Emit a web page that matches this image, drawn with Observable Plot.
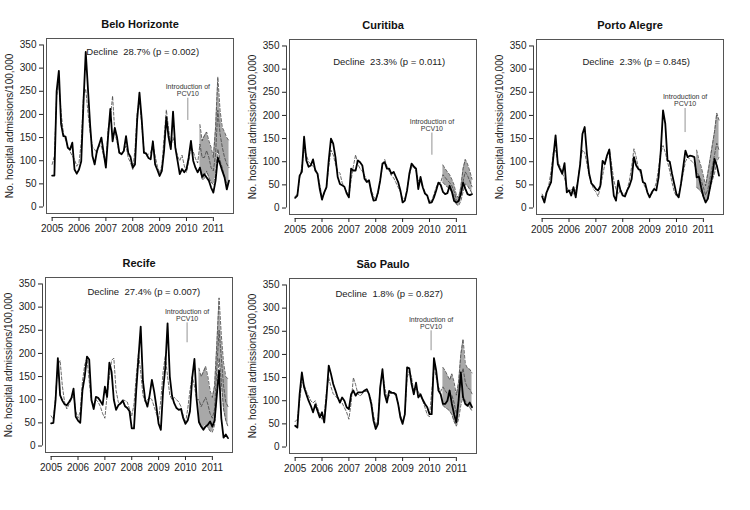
<!DOCTYPE html>
<html><head><meta charset="utf-8">
<script src="https://cdn.jsdelivr.net/npm/d3@7"></script>
<script src="https://cdn.jsdelivr.net/npm/@observablehq/plot@0.6"></script>
<style>
body{margin:0;background:#fff;}
#chart{position:relative;width:750px;height:510px;background:#fff;font-family:"Liberation Sans",Arial,sans-serif;}
.panel{position:absolute;}
</style></head><body><div id="chart"></div>
<script>
// ---- data (monthly, Jan 2005 – Aug 2011) ----
const yearTicks = [2005, 2006, 2007, 2008, 2009, 2010, 2011];
const yTicks = [0, 50, 100, 150, 200, 250, 300, 350];
const yLabel = "No. hospital admissions/100,000";
const introLabel = "Introduction of\nPCV10";
const cities = ["Belo Horizonte", "Curitiba", "Porto Alegre", "Recife", "São Paulo"];
const declineTexts = [
  "Decline\u00a0 28.7% (p = 0.002)",
  "Decline\u00a0 23.3% (p = 0.011)",
  "Decline\u00a0 2.3% (p = 0.845)",
  "Decline\u00a0 27.4% (p = 0.007)",
  "Decline\u00a0 1.8% (p = 0.827)"
];
// first month index of the prediction interval
const bandStart = [66, 66, 69, 66, 66];

const observedBH = [68,68,250,294,179,153,152,128,124,139,81,72,
  81,99,225,335,255,175,110,92,121,135,150,117,
  85,153,212,142,171,150,117,114,121,153,117,108,
  85,92,190,247,190,117,116,106,103,142,92,80,
  67,78,122,194,151,125,206,129,100,71,82,75,
  82,107,143,100,85,75,85,65,71,64,57,42,
  31,57,107,93,78,64,38,57];
const predictedBH = [92,110,240,265,204,160,145,130,120,110,103,88,
  96,140,240,255,204,160,130,124,117,132,132,110,
  96,168,193,240,160,140,117,117,121,132,106,96,
  81,124,204,233,179,124,110,114,117,136,110,88,
  73,90,150,210,170,130,150,130,110,100,112,90,
  75,100,130,120,105,95,136,107,107,122,107,85,
  78,114,209,158,129,107,93,85];
const upperBH = [178,143,154,162,143,129,107,172,281,209,172,162,150,143];
const lowerBH = [85,60,60,78,64,53,49,71,125,100,85,65,48,57];

const observedCU = [22,27,70,78,154,103,89,92,105,81,74,41,
  18,34,45,103,150,139,110,67,52,49,46,32,
  23,85,81,81,103,99,92,63,56,60,34,16,
  17,34,60,96,99,85,85,74,78,67,56,38,
  12,16,38,74,96,90,85,41,67,45,31,27,
  11,12,23,38,55,50,35,30,32,48,35,15,
  12,15,30,55,42,30,28,30];
const predictedCU = [25,30,65,90,125,115,100,95,90,85,75,50,
  25,30,45,90,125,115,95,80,75,55,45,35,
  25,60,90,115,95,85,80,70,60,55,40,25,
  18,30,60,90,105,90,80,70,65,55,45,35,
  20,20,40,70,90,88,80,60,55,45,35,25,
  15,15,30,45,55,55,72,66,60,55,48,36,
  18,12,28,58,78,70,58,46];
const upperCU = [93,85,78,72,62,50,28,22,45,85,105,95,80,62];
const lowerCU = [55,50,45,42,35,25,8,5,15,35,52,48,40,32];

const observedPA = [25,12,34,45,56,110,157,95,84,74,97,34,
  38,27,45,23,59,95,160,175,117,74,53,48,
  41,38,48,102,95,114,126,74,27,16,59,38,
  27,25,38,48,63,110,92,84,82,56,53,34,
  23,34,41,38,66,124,211,182,103,100,74,52,
  30,23,52,88,124,110,113,112,110,66,68,45,
  25,12,20,45,70,106,92,70];
const predictedPA = [30,20,35,50,80,120,125,100,90,75,65,45,
  35,40,30,40,60,100,125,120,95,70,55,40,
  35,25,45,70,95,110,128,95,60,40,30,40,
  30,30,40,60,90,128,110,85,75,55,45,35,
  25,30,40,55,85,120,135,120,100,80,55,35,
  25,30,50,75,100,110,105,100,95,80,70,60,
  45,28,40,65,90,115,140,125];
const upperPA = [125,105,90,70,48,75,105,135,165,205,190];
const lowerPA = [45,40,35,25,15,20,40,60,75,100,110];

const observedRE = [49,50,100,190,110,98,90,88,95,103,124,63,
  55,50,121,150,193,187,100,80,106,104,97,89,
  128,106,180,160,100,78,88,92,98,86,82,75,
  38,38,120,190,258,140,100,85,110,143,118,85,
  48,35,120,170,265,150,108,92,82,78,80,60,
  48,55,75,147,188,100,52,42,35,42,46,53,
  42,55,110,163,60,18,25,17];
const predictedRE = [65,58,110,175,185,130,95,80,90,100,110,75,
  60,75,140,175,190,140,95,90,100,95,85,70,
  60,110,150,185,190,120,95,90,100,98,95,80,
  65,90,150,200,160,110,95,100,105,100,85,70,
  55,100,160,195,150,110,100,105,100,95,85,65,
  50,80,120,150,130,100,100,85,95,105,90,70,
  60,80,170,250,190,130,95,85];
const upperRE = [168,150,160,172,150,120,105,130,220,320,240,180,150,145];
const lowerRE = [50,42,40,45,40,32,30,45,120,190,140,80,55,42];

const observedSP = [46,42,114,161,129,114,100,89,75,92,78,64,
  75,53,107,176,158,136,122,107,96,107,100,86,
  82,114,122,111,118,118,118,122,125,114,93,57,
  39,50,129,168,114,96,121,117,117,114,93,64,
  50,71,172,170,136,114,139,107,114,102,93,86,
  71,71,192,165,122,114,93,93,100,122,93,71,
  53,100,161,107,93,89,96,86];
const predictedSP = [55,60,100,140,135,120,110,100,95,100,85,70,
  60,70,120,150,130,115,110,105,100,95,85,75,
  60,95,150,135,115,110,115,120,120,115,100,70,
  45,60,130,160,130,105,110,120,115,110,95,70,
  55,70,150,165,150,120,125,120,110,100,85,70,
  65,120,175,150,130,120,130,122,115,110,112,95,
  72,100,150,170,140,128,125,115];
const upperSP = [172,165,155,145,158,140,112,140,200,233,180,170,168,160];
const lowerSP = [90,85,82,78,70,55,45,60,90,110,100,90,85,78];

// ---- annotation placement (data coordinates) ----
const declinePos = [[2008.37, 335], [2008.5, 316], [2008.5, 315], [2008.45, 333], [2008.5, 331]];
const arrowPos = [[2010.05, 187, 235], [2010.09, 114, 162], [2010.32, 163, 215], [2010.06, 223, 266], [2010.06, 208, 251]];
const panelPos = [[1, 0], [244, 1], [491, 1], [0, 239], [244, 240]];

const series = [
  [observedBH, predictedBH, upperBH, lowerBH],
  [observedCU, predictedCU, upperCU, lowerCU],
  [observedPA, predictedPA, upperPA, lowerPA],
  [observedRE, predictedRE, upperRE, lowerRE],
  [observedSP, predictedSP, upperSP, lowerSP]
];

const FONT = '"Liberation Sans", Arial, sans-serif';
const xDomain = [2004.79, 2011.75];
const yDomain = [-14, 364];
const chart = document.getElementById("chart");

cities.forEach((name, k) => {
  const [obsV, predV, hiV, loV] = series[k];
  const obs = obsV.map((v, i) => ({t: 2005 + i / 12, v}));
  const pred = predV.map((v, i) => ({t: 2005 + i / 12, v}));
  const band = hiV.map((h, i) => ({t: 2005 + (bandStart[k] + i) / 12, hi: h, lo: loV[i]}));
  const dashed = {stroke: "#444", strokeWidth: 0.8, strokeDasharray: "3,2"};
  const svg = Plot.plot({
    width: 250, height: 243,
    marginLeft: 45, marginRight: 18, marginTop: 38, marginBottom: 30,
    x: {domain: xDomain},
    y: {domain: yDomain},
    style: {fontFamily: FONT, fontSize: "10px", color: "#222", background: "none", overflow: "visible"},
    marks: [
      Plot.areaY(band, {x: "t", y1: "lo", y2: "hi", fill: "#a8a8a8"}),
      Plot.lineY(band, {x: "t", y: "hi", ...dashed}),
      Plot.lineY(band, {x: "t", y: "lo", ...dashed}),
      Plot.lineY(pred, {x: "t", y: "v", ...dashed}),
      Plot.lineY(obs, {x: "t", y: "v", stroke: "#000", strokeWidth: 1.8}),
      Plot.frame({stroke: "#555"}),
      Plot.ruleX([xDomain[0]], {y1: 0, y2: 350, dx: -3, stroke: "#444"}),
      Plot.axisY({ticks: yTicks, tickSize: 4, tickPadding: 3, dx: -3, label: null, fontSize: 10}),
      Plot.ruleY([yDomain[0]], {x1: 2005, x2: 2011, dy: 4, stroke: "#444"}),
      Plot.axisX({ticks: yearTicks, tickFormat: d => String(d), tickSize: 4, tickPadding: 3, dy: 4, label: null, fontSize: 10}),
      Plot.text([name], {frameAnchor: "top", dy: -18, fontWeight: "bold", fontSize: 11, fill: "#111"}),
      Plot.text([yLabel], {frameAnchor: "left", textAnchor: "middle", rotate: -90, dx: -37, fontSize: 10, fill: "#222"}),
      Plot.text([declineTexts[k]], {x: () => declinePos[k][0], y: () => declinePos[k][1], fontSize: 9.5, fill: "#222"}),
      Plot.ruleX([arrowPos[k][0]], {y1: arrowPos[k][1], y2: arrowPos[k][2], stroke: "#777", strokeWidth: 0.8}),
      Plot.text([introLabel], {x: () => arrowPos[k][0], y: () => arrowPos[k][2], lineAnchor: "bottom", dy: -2, fontSize: 7, fill: "#333"})
    ]
  });
  const div = document.createElement("div");
  div.className = "panel";
  div.style.left = panelPos[k][0] + "px";
  div.style.top = panelPos[k][1] + "px";
  div.appendChild(svg);
  chart.appendChild(div);
});
</script></body></html>
